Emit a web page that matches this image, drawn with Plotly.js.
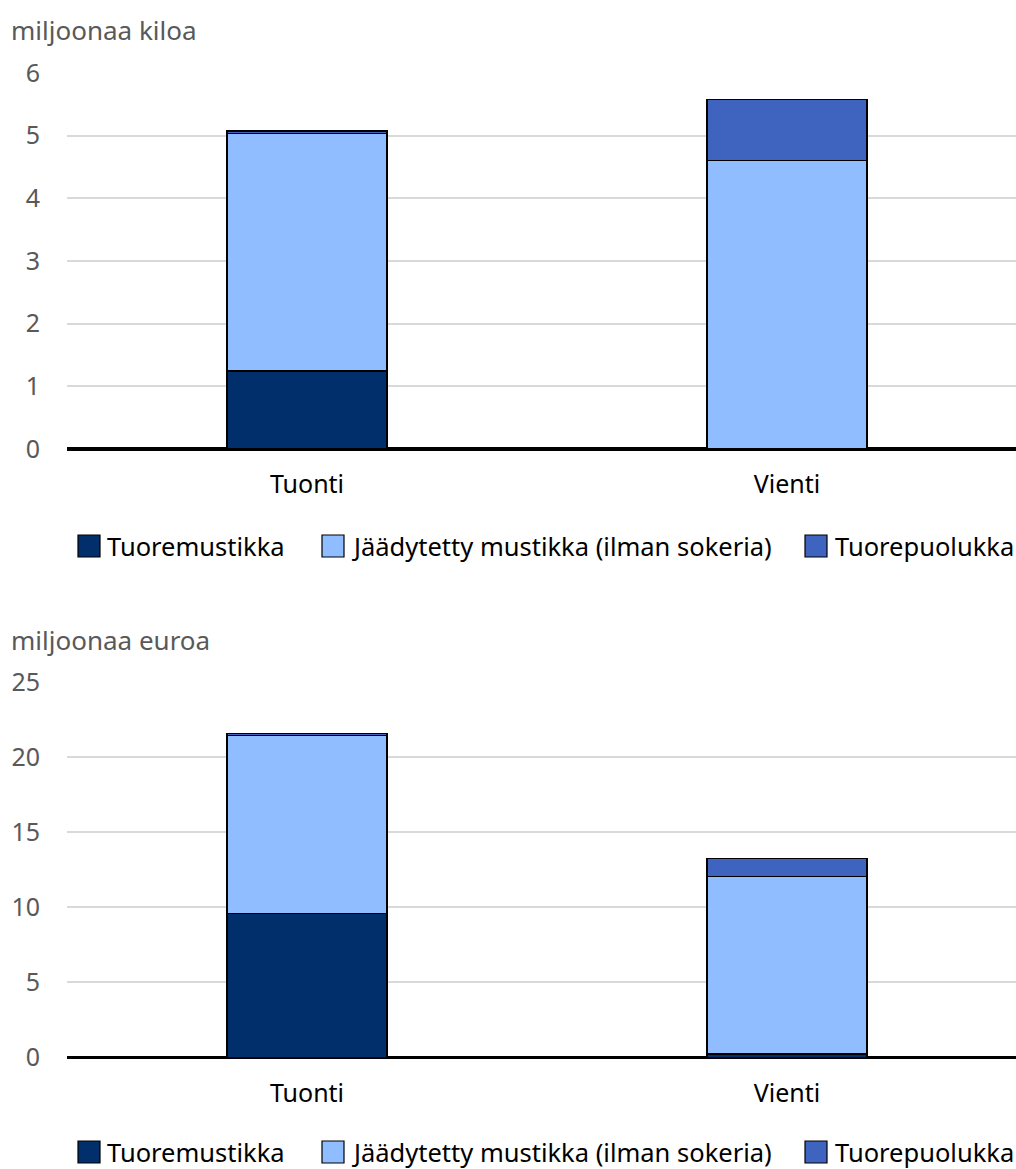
<!DOCTYPE html>
<html>
<head>
<meta charset="utf-8">
<script src="https://cdn.plot.ly/plotly-3.0.1.min.js"></script>
<style>
html,body{margin:0;padding:0;background:#fff;width:1016px;height:1169px;overflow:hidden;}
#chart{width:1027px;height:1169px;display:block;}
</style>
</head>
<body>
<div id="chart"></div>
<script>
const categories = ['Tuonti', 'Vienti'];
const seriesNames = ['Tuoremustikka', 'Jäädytetty mustikka (ilman sokeria)', 'Tuorepuolukka'];
const seriesColors = ['#002F6C', '#8FBDFF', '#3F64BF'];

// miljoonaa kiloa
const kgTuoremustikka = [1.245, 0.01];
const kgJaadytetty = [3.79, 4.59];
const kgTuorepuolukka = [0.04, 0.98];

// miljoonaa euroa
const eurTuoremustikka = [9.59, 0.23];
const eurJaadytetty = [11.84, 11.82];
const eurTuorepuolukka = [0.14, 1.18];

const yTitles = ['miljoonaa kiloa', 'miljoonaa euroa'];
const yTicksKg = [0, 1, 2, 3, 4, 5, 6];
const yTicksEur = [0, 5, 10, 15, 20, 25];

const FONT = 'Noto Sans, Open Sans, sans-serif';
const W = 1027, H = 1169;

function mk(vals, i, xa, ya) {
  return {
    type: 'bar', x: categories, y: vals, name: seriesNames[i],
    xaxis: xa, yaxis: ya, showlegend: false,
    marker: {color: seriesColors[i], line: {color: '#000', width: 1.4}},
    hoverinfo: 'skip'
  };
}

const data = [
  mk(kgTuoremustikka, 0, 'x', 'y'),
  mk(kgJaadytetty, 1, 'x', 'y'),
  mk(kgTuorepuolukka, 2, 'x', 'y'),
  mk(eurTuoremustikka, 0, 'x2', 'y2'),
  mk(eurJaadytetty, 1, 'x2', 'y2'),
  mk(eurTuorepuolukka, 2, 'x2', 'y2')
];

const xDom = [67 / W, 1];
function yDom(top, bottom) { return [1 - bottom / H, 1 - top / H]; }

const xaxisBase = {
  domain: xDom, showgrid: false, zeroline: false, showline: false,
  ticks: '', ticklabelstandoff: 18,
  tickfont: {family: FONT, size: 25, color: '#000'}, fixedrange: true
};
const yaxisBase = {
  showgrid: true, gridcolor: '#d9d9d9', gridwidth: 2,
  zeroline: true, zerolinecolor: '#000', zerolinewidth: 3.5,
  showline: false, ticks: '', ticklabelstandoff: 26,
  tickfont: {family: FONT, size: 25, color: '#595959'}, fixedrange: true
};

// custom legend: swatch boxes + labels (positions in paper px)
const legendSwatchX = [78, 322, 805];
const legendTextX = [105, 350, 833];
const legendRowsY = [546, 1152];
const shapes = [];
const annotations = [];
legendRowsY.forEach(function (cy) {
  seriesNames.forEach(function (nm, i) {
    shapes.push({
      type: 'rect', xref: 'paper', yref: 'paper',
      x0: legendSwatchX[i] / W, x1: (legendSwatchX[i] + 22) / W,
      y0: 1 - (cy + 11) / H, y1: 1 - (cy - 11) / H,
      fillcolor: seriesColors[i], line: {color: '#000', width: 1.2}
    });
    annotations.push({
      text: nm, xref: 'paper', yref: 'paper', x: legendTextX[i] / W, y: 1 - cy / H,
      xanchor: 'left', yanchor: 'middle', showarrow: false,
      font: {family: FONT, size: 25.5, color: '#000'}
    });
  });
});
annotations.push(
  {text: yTitles[0], xref: 'paper', yref: 'paper', x: 9 / W, y: 1 - 30 / H, xanchor: 'left', yanchor: 'middle',
   showarrow: false, font: {family: FONT, size: 26, color: '#595959'}},
  {text: yTitles[1], xref: 'paper', yref: 'paper', x: 9 / W, y: 1 - 640 / H, xanchor: 'left', yanchor: 'middle',
   showarrow: false, font: {family: FONT, size: 26, color: '#595959'}}
);

const layout = {
  width: W, height: H, margin: {l: 0, r: 0, t: 0, b: 0},
  paper_bgcolor: '#fff', plot_bgcolor: '#fff',
  barmode: 'stack', bargap: 0.667, showlegend: false,
  font: {family: FONT},
  xaxis: Object.assign({}, xaxisBase, {anchor: 'y'}),
  yaxis: Object.assign({}, yaxisBase, {domain: yDom(73, 449), range: [0, 6], tickvals: yTicksKg, anchor: 'x'}),
  xaxis2: Object.assign({}, xaxisBase, {anchor: 'y2'}),
  yaxis2: Object.assign({}, yaxisBase, {domain: yDom(682, 1057.5), range: [0, 25], tickvals: yTicksEur, anchor: 'x2'}),
  shapes: shapes,
  annotations: annotations
};

Plotly.newPlot('chart', data, layout, {displayModeBar: false, staticPlot: true});
</script>
</body>
</html>
